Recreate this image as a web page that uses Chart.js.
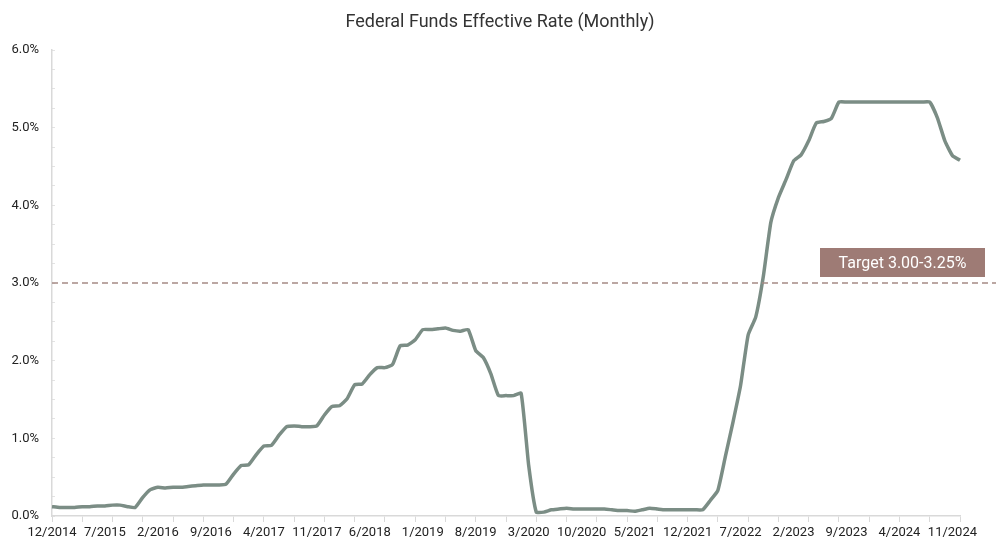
<!DOCTYPE html>
<html>
<head>
<meta charset="utf-8">
<script src="https://cdn.jsdelivr.net/npm/chart.js@4"></script>
<style>
  html, body { margin: 0; padding: 0; background: #fff; }
  #wrap { width: 1000px; height: 553px; }
</style>
</head>
<body>
<div id="wrap"><canvas id="rateChart" width="1000" height="553"></canvas></div>
<script>
// Monthly effective fed funds rate, 12/2014 .. 12/2024
const startYear = 2014;
const startMonth = 12;
const rates = [
    0.12,
    0.11, 0.11, 0.11, 0.12, 0.12, 0.13, 0.13, 0.14, 0.14, 0.12, 0.11, 0.24,
    0.34, 0.37, 0.36, 0.37, 0.37, 0.38, 0.39, 0.40, 0.40, 0.40, 0.41, 0.54,
    0.65, 0.66, 0.79, 0.90, 0.91, 1.04, 1.15, 1.16, 1.15, 1.15, 1.16, 1.30,
    1.41, 1.42, 1.51, 1.69, 1.70, 1.82, 1.91, 1.91, 1.95, 2.19, 2.20, 2.27,
    2.40, 2.40, 2.41, 2.42, 2.39, 2.38, 2.40, 2.13, 2.04, 1.83, 1.55, 1.55,
    1.55, 1.58, 0.65, 0.05, 0.05, 0.08, 0.09, 0.10, 0.09, 0.09, 0.09, 0.09,
    0.09, 0.08, 0.07, 0.07, 0.06, 0.08, 0.10, 0.09, 0.08, 0.08, 0.08, 0.08,
    0.08, 0.08, 0.20, 0.33, 0.77, 1.21, 1.68, 2.33, 2.56, 3.08, 3.78, 4.10,
    4.33, 4.57, 4.65, 4.83, 5.06, 5.08, 5.12, 5.33, 5.33, 5.33, 5.33, 5.33,
    5.33, 5.33, 5.33, 5.33, 5.33, 5.33, 5.33, 5.33, 5.13, 4.83, 4.64, 4.58
];
const targetLow = 3.0;
const targetText = 'Target 3.00-3.25%';
const labelEvery = 7;   // month labels shown every 7 months
const tickEvery = 4;    // tick marks every 4 months

const months = [];
for (let i = 0; i < rates.length; i++) {
    const m = (startMonth - 1 + i) % 12 + 1;
    const y = startYear + Math.floor((startMonth - 1 + i) / 12);
    months.push(m + '/' + y);
}

const FONT = 'Roboto, "Liberation Sans", sans-serif';

// dashed target line + label box
const targetPlugin = {
    id: 'target',
    afterDatasetsDraw(chart) {
        const { ctx, chartArea } = chart;
        const y = chart.scales.y.getPixelForValue(targetLow);
        ctx.save();
        ctx.strokeStyle = '#a58a85';
        ctx.lineWidth = 1.5;
        ctx.setLineDash([6, 4]);
        ctx.beginPath();
        ctx.moveTo(chartArea.left, y);
        ctx.lineTo(chart.width - 4, y);
        ctx.stroke();
        ctx.setLineDash([]);
        const bx = 820, bw = 165, bh = 29;
        ctx.fillStyle = '#9e7b75';
        ctx.fillRect(bx, y - 6 - bh, bw, bh);
        ctx.fillStyle = '#ffffff';
        ctx.font = '16px ' + FONT;
        ctx.textAlign = 'center';
        ctx.textBaseline = 'middle';
        ctx.fillText(targetText, bx + bw / 2, y - 6 - bh / 2 + 1);
        ctx.restore();
    }
};

new Chart(document.getElementById('rateChart'), {
    type: 'line',
    data: {
        labels: months,
        datasets: [{
            data: rates,
            borderColor: '#7b8d85',
            borderWidth: 3.5,
            pointRadius: 0,
            tension: 0.15,
            fill: false
        }]
    },
    options: {
        responsive: false,
        animation: false,
        layout: { padding: 0 },
        plugins: {
            legend: { display: false },
            tooltip: { enabled: false },
            title: {
                display: true,
                text: 'Federal Funds Effective Rate (Monthly)',
                color: '#333333',
                font: { family: FONT, size: 18, weight: 'normal' },
                padding: { top: 12, bottom: 16.4 }
            }
        },
        scales: {
            x: {
                offset: false,
                border: { color: '#d9d9d9', width: 1.5 },
                grid: {
                    drawOnChartArea: false,
                    tickLength: 6,
                    color: (c) => (c.index % tickEvery === 0 ? '#d9d9d9' : 'rgba(0,0,0,0)')
                },
                ticks: {
                    autoSkip: false,
                    maxRotation: 0,
                    minRotation: 0,
                    padding: 3,
                    color: '#222222',
                    font: { family: FONT, size: 13 },
                    callback: (v, i) => (i % labelEvery === 0 ? months[i] : '')
                },
                afterFit: (s) => { s.height = 37; }
            },
            y: {
                min: 0,
                max: 6,
                border: { color: '#d9d9d9', width: 1.5 },
                grid: { drawOnChartArea: false, tickLength: -3, color: '#e3e3e3' },
                ticks: {
                    stepSize: 0.25,
                    padding: 16,
                    color: '#222222',
                    font: { family: FONT, size: 13 },
                    callback: (v) => (Number.isInteger(v) ? v.toFixed(1) + '%' : '')
                },
                afterFit: (s) => { s.width = 52; }
            },
            // empty right-hand gutter so the title stays centred on the page
            gutter: {
                position: 'right',
                display: true,
                grid: { display: false },
                border: { display: false },
                ticks: { display: false },
                afterFit: (s) => { s.width = 40; }
            }
        }
    },
    plugins: [targetPlugin]
});
</script>
</body>
</html>
